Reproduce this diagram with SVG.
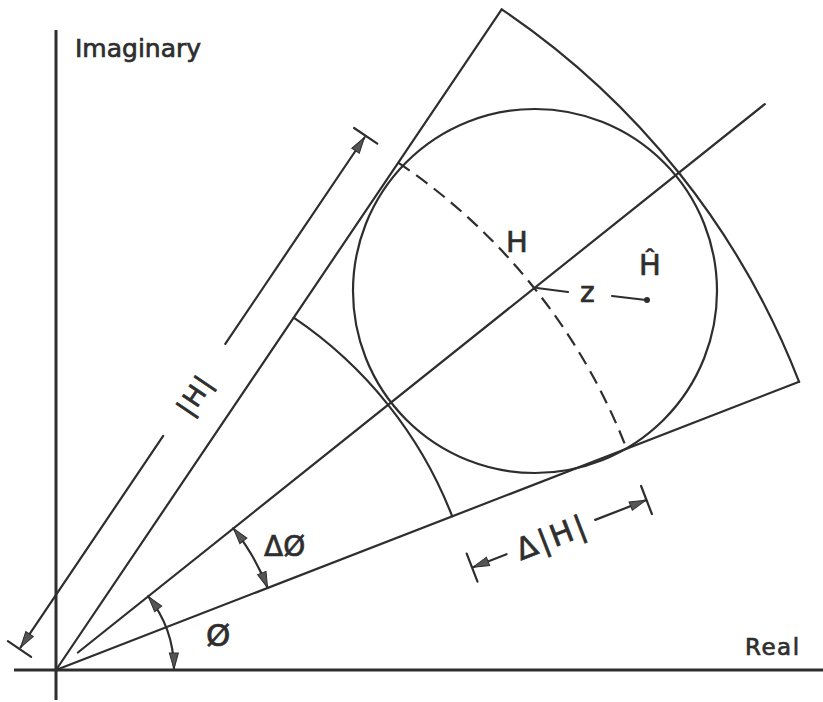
<svg xmlns="http://www.w3.org/2000/svg" width="823" height="702" viewBox="0 0 823 702">
<style>
.ln{fill:none;stroke:#2e2e2e;stroke-width:2.2;stroke-linecap:round}
.ax{fill:none;stroke:#2e2e2e;stroke-width:3}
.dash{fill:none;stroke:#2e2e2e;stroke-width:2.2;stroke-dasharray:14 8}
.t{font-family:"DejaVu Sans","Liberation Sans",sans-serif;fill:#2e2e2e;stroke:#2e2e2e;stroke-width:0.7}
</style>
<defs>
<marker id="ah" markerUnits="userSpaceOnUse" markerWidth="20" markerHeight="12" viewBox="-17 -6 19 12" refX="0" refY="0" orient="auto-start-reverse">
<path d="M0,0 L-16,-4.5 L-16,4.5 Z" fill="#555" stroke="#2e2e2e" stroke-width="1"/>
</marker>
</defs>
<rect width="823" height="702" fill="#fff"/>
<g id="axes">
<line class="ax" x1="56" y1="30" x2="56" y2="700"/>
<line class="ax" x1="14" y1="670" x2="823" y2="670"/>
</g>
<g id="labels-axes">
<text class="t" x="75" y="57" font-size="25">Imaginary</text>
<text class="t" x="745" y="655" font-size="23" letter-spacing="1.5">Real</text>
</g>
<g id="connectors">
<line class="ln" x1="56" y1="670" x2="501.7" y2="9.3"/>
<line class="ln" x1="77.9" y1="652.5" x2="764.8" y2="104.1"/>
<line class="ln" x1="56" y1="670" x2="799.1" y2="381.8"/>
<path class="ln" d="M501.7,9.3 A797,797 0 0 1 799.1,381.8"/>
<path class="ln" d="M293.7,317.7 A425,425 0 0 1 452.2,516.3"/>
<path class="dash" d="M398.2,162.6 A612,612 0 0 1 626.6,448.7"/>
</g>
<g id="circle">
<circle class="ln" cx="535" cy="291" r="182"/>
</g>
<g id="dim-H">
<line class="ln" x1="7.9" y1="641.2" x2="31.1" y2="656.8"/>
<line class="ln" x1="354.1" y1="128" x2="377.3" y2="143.6"/>
<line class="ln" x1="163.2" y1="435.9" x2="20.6" y2="647.3" marker-end="url(#ah)"/>
<line class="ln" x1="225.3" y1="343.9" x2="364.5" y2="137.5" marker-end="url(#ah)"/>
<text class="t" font-size="26" letter-spacing="2" text-anchor="middle" dominant-baseline="central" transform="translate(195,395) rotate(-56)">|H|</text>
</g>
<g id="dim-dH">
<line class="ln" x1="466.7" y1="553.6" x2="477.5" y2="581.6"/>
<line class="ln" x1="641.1" y1="486" x2="651.9" y2="514"/>
<line class="ln" x1="506.6" y1="554.2" x2="473.1" y2="567.2" marker-end="url(#ah)"/>
<line class="ln" x1="595.2" y1="519.9" x2="645.6" y2="500.3" marker-end="url(#ah)"/>
<text class="t" font-size="30" letter-spacing="3" text-anchor="middle" dominant-baseline="central" transform="translate(552,537) rotate(-21.2)">Δ|H|</text>
</g>
<g id="angle-dphi">
<path class="ln" d="M233.4,528.4 A227,227 0 0 1 267.6,587.9" marker-start="url(#ah)" marker-end="url(#ah)"/>
<text class="t" x="264" y="556" font-size="28">ΔØ</text>
</g>
<g id="angle-phi">
<path class="ln" d="M148.2,596.4 A118,118 0 0 1 174,669" marker-start="url(#ah)" marker-end="url(#ah)"/>
<text class="t" x="206" y="646" font-size="31">Ø</text>
</g>
<g id="point-H">
<text class="t" x="506" y="252" font-size="29">H</text>
</g>
<g id="point-Hhat">
<text class="t" x="639" y="275" font-size="29">Ĥ</text>
<circle cx="647" cy="300" r="3" fill="#2e2e2e"/>
</g>
<g id="z-dim">
<line class="ln" x1="537" y1="288" x2="568" y2="292"/>
<line class="ln" x1="612" y1="296" x2="646" y2="300"/>
<text class="t" x="580" y="302" font-size="28">z</text>
</g>
</svg>
